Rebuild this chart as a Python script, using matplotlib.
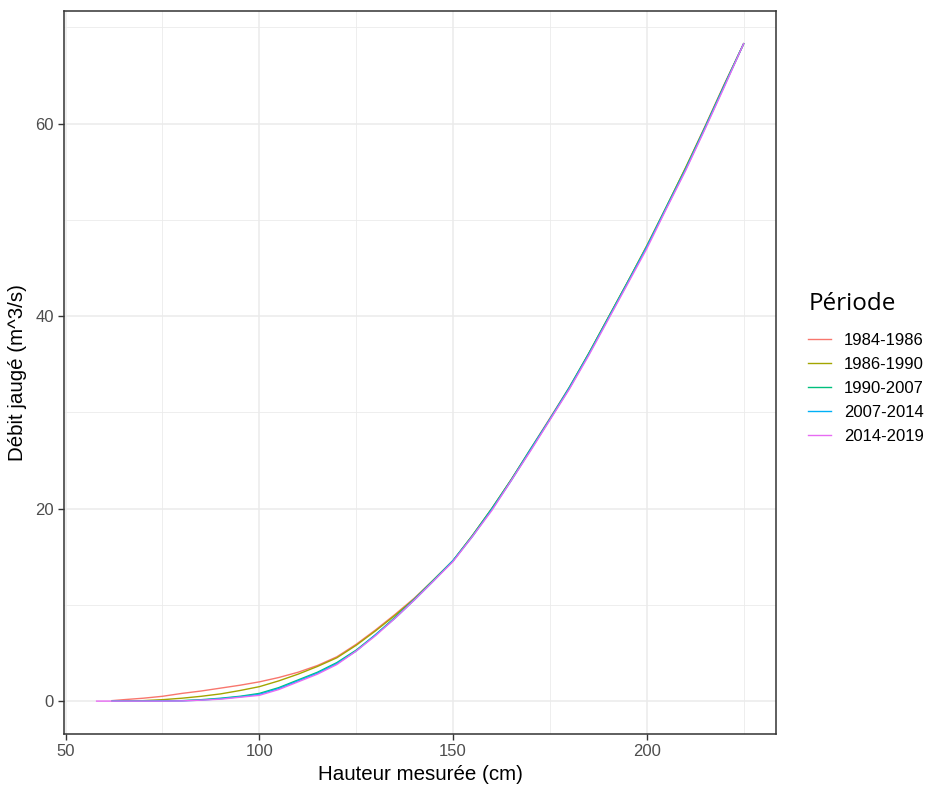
import matplotlib
matplotlib.use("Agg")
import matplotlib.pyplot as plt
from matplotlib.ticker import MultipleLocator

plt.rcParams["font.family"] = ["Liberation Sans", "DejaVu Sans"]

# Courbes de tarage par période (hauteur en cm, débit en m^3/s)
periods = ["1984-1986", "1986-1990", "1990-2007", "2007-2014", "2014-2019"]
colors = ["#F8766D", "#A3A500", "#00BF7D", "#00B0F6", "#E76BF3"]

h_1984 = [62, 65, 70, 75, 80, 85, 90, 95, 100, 105, 110, 115, 120, 125, 130, 135, 140, 145, 150,
          155, 160, 165, 170, 175, 180, 185, 190, 195, 200, 205, 210, 215, 220, 225]
q_1984 = [0.05, 0.15, 0.3, 0.5, 0.8, 1.05, 1.35, 1.65, 2.0, 2.45, 3.0, 3.7, 4.6, 5.9, 7.4, 9.0, 10.7, 12.6, 14.6,
          17.2, 20.0, 23.0, 26.2, 29.4, 32.6, 36.1, 39.8, 43.5, 47.3, 51.3, 55.4, 59.7, 64.1, 68.3]

h_1986 = [62, 65, 70, 75, 80, 85, 90, 95, 100, 105, 110, 115, 120, 125, 130, 135, 140, 145, 150,
          155, 160, 165, 170, 175, 180, 185, 190, 195, 200, 205, 210, 215, 220, 225]
q_1986 = [0.0, 0.02, 0.05, 0.15, 0.3, 0.5, 0.75, 1.1, 1.5, 2.1, 2.8, 3.6, 4.5, 5.8, 7.3, 8.9, 10.6, 12.6, 14.6,
          17.2, 20.0, 23.0, 26.1, 29.3, 32.5, 36.1, 39.8, 43.5, 47.3, 51.3, 55.4, 59.6, 64.0, 68.3]

h_1990 = [62, 65, 70, 75, 80, 85, 90, 95, 100, 105, 110, 115, 120, 125, 130, 135, 140, 145, 150,
          155, 160, 165, 170, 175, 180, 185, 190, 195, 200, 205, 210, 215, 220, 225]
q_1990 = [0.0, 0.0, 0.0, 0.02, 0.05, 0.15, 0.3, 0.5, 0.8, 1.4, 2.2, 3.0, 4.0, 5.3, 6.9, 8.7, 10.6, 12.6, 14.6,
          17.2, 20.0, 23.0, 26.2, 29.3, 32.6, 36.1, 39.8, 43.5, 47.2, 51.3, 55.3, 59.6, 64.0, 68.3]

h_2007 = [62, 65, 70, 75, 80, 85, 90, 95, 100, 105, 110, 115, 120, 125, 130, 135, 140, 145, 150,
          155, 160, 165, 170, 175, 180, 185, 190, 195, 200, 205, 210, 215, 220, 225]
q_2007 = [0.0, 0.0, 0.0, 0.01, 0.03, 0.1, 0.25, 0.45, 0.7, 1.3, 2.1, 2.9, 3.9, 5.2, 6.9, 8.6, 10.5, 12.5, 14.6,
          17.1, 19.9, 22.9, 26.1, 29.3, 32.5, 36.0, 39.7, 43.4, 47.2, 51.2, 55.2, 59.5, 63.9, 68.3]

h_2014 = [58, 62, 65, 70, 75, 80, 85, 90, 95, 100, 105, 110, 115, 120, 125, 130, 135, 140, 145, 150,
          155, 160, 165, 170, 175, 180, 185, 190, 195, 200, 205, 210, 215, 220, 225]
q_2014 = [0.0, 0.0, 0.0, 0.0, 0.0, 0.02, 0.1, 0.2, 0.4, 0.6, 1.2, 2.0, 2.8, 3.8, 5.2, 6.8, 8.6, 10.5, 12.5, 14.5,
          17.1, 19.8, 22.9, 26.0, 29.2, 32.4, 35.9, 39.6, 43.3, 47.0, 51.1, 55.1, 59.4, 63.8, 68.3]

series = [(h_1984, q_1984), (h_1986, q_1986), (h_1990, q_1990), (h_2007, q_2007), (h_2014, q_2014)]

fig = plt.figure(figsize=(9.26, 7.92), dpi=100)
ax = fig.add_axes([0.0694, 0.0732, 0.7686, 0.9129])

for (h, q), label, col in zip(series, periods, colors):
    ax.plot(h, q, color=col, lw=1.0, label=label)

ax.set_xlim(49.65, 233.35)
ax.set_ylim(-3.42, 71.7)
ax.xaxis.set_major_locator(MultipleLocator(50))
ax.yaxis.set_major_locator(MultipleLocator(20))
ax.xaxis.set_minor_locator(MultipleLocator(25))
ax.yaxis.set_minor_locator(MultipleLocator(10))

ax.grid(which="major", color="#EBEBEB", lw=1.1)
ax.grid(which="minor", color="#EBEBEB", lw=0.6)
ax.set_axisbelow(True)
for s in ax.spines.values():
    s.set_color("#333333")
    s.set_linewidth(1.1)
ax.tick_params(which="major", length=4, width=1.0, color="#333333",
               labelcolor="#4D4D4D", labelsize=12)
ax.tick_params(which="minor", length=0)

ax.set_xlabel("Hauteur mesurée (cm)", fontsize=14.8, labelpad=4)
ax.set_ylabel("Débit jaugé (m^3/s)", fontsize=14.8, labelpad=6)

# légende : titre placé à part, entrées en dessous
fig.text(0.8735, 1 - 304 / 792, "Période", fontsize=17.5, ha="left", va="center",
         family=["Open Sans", "DejaVu Sans"])
fig.legend(loc="center left", bbox_to_anchor=(0.8567, 0.5101), frameon=False,
           fontsize=12, handlelength=1.35, handletextpad=0.8, labelspacing=0.54)

fig.savefig("out.png", dpi=100)
